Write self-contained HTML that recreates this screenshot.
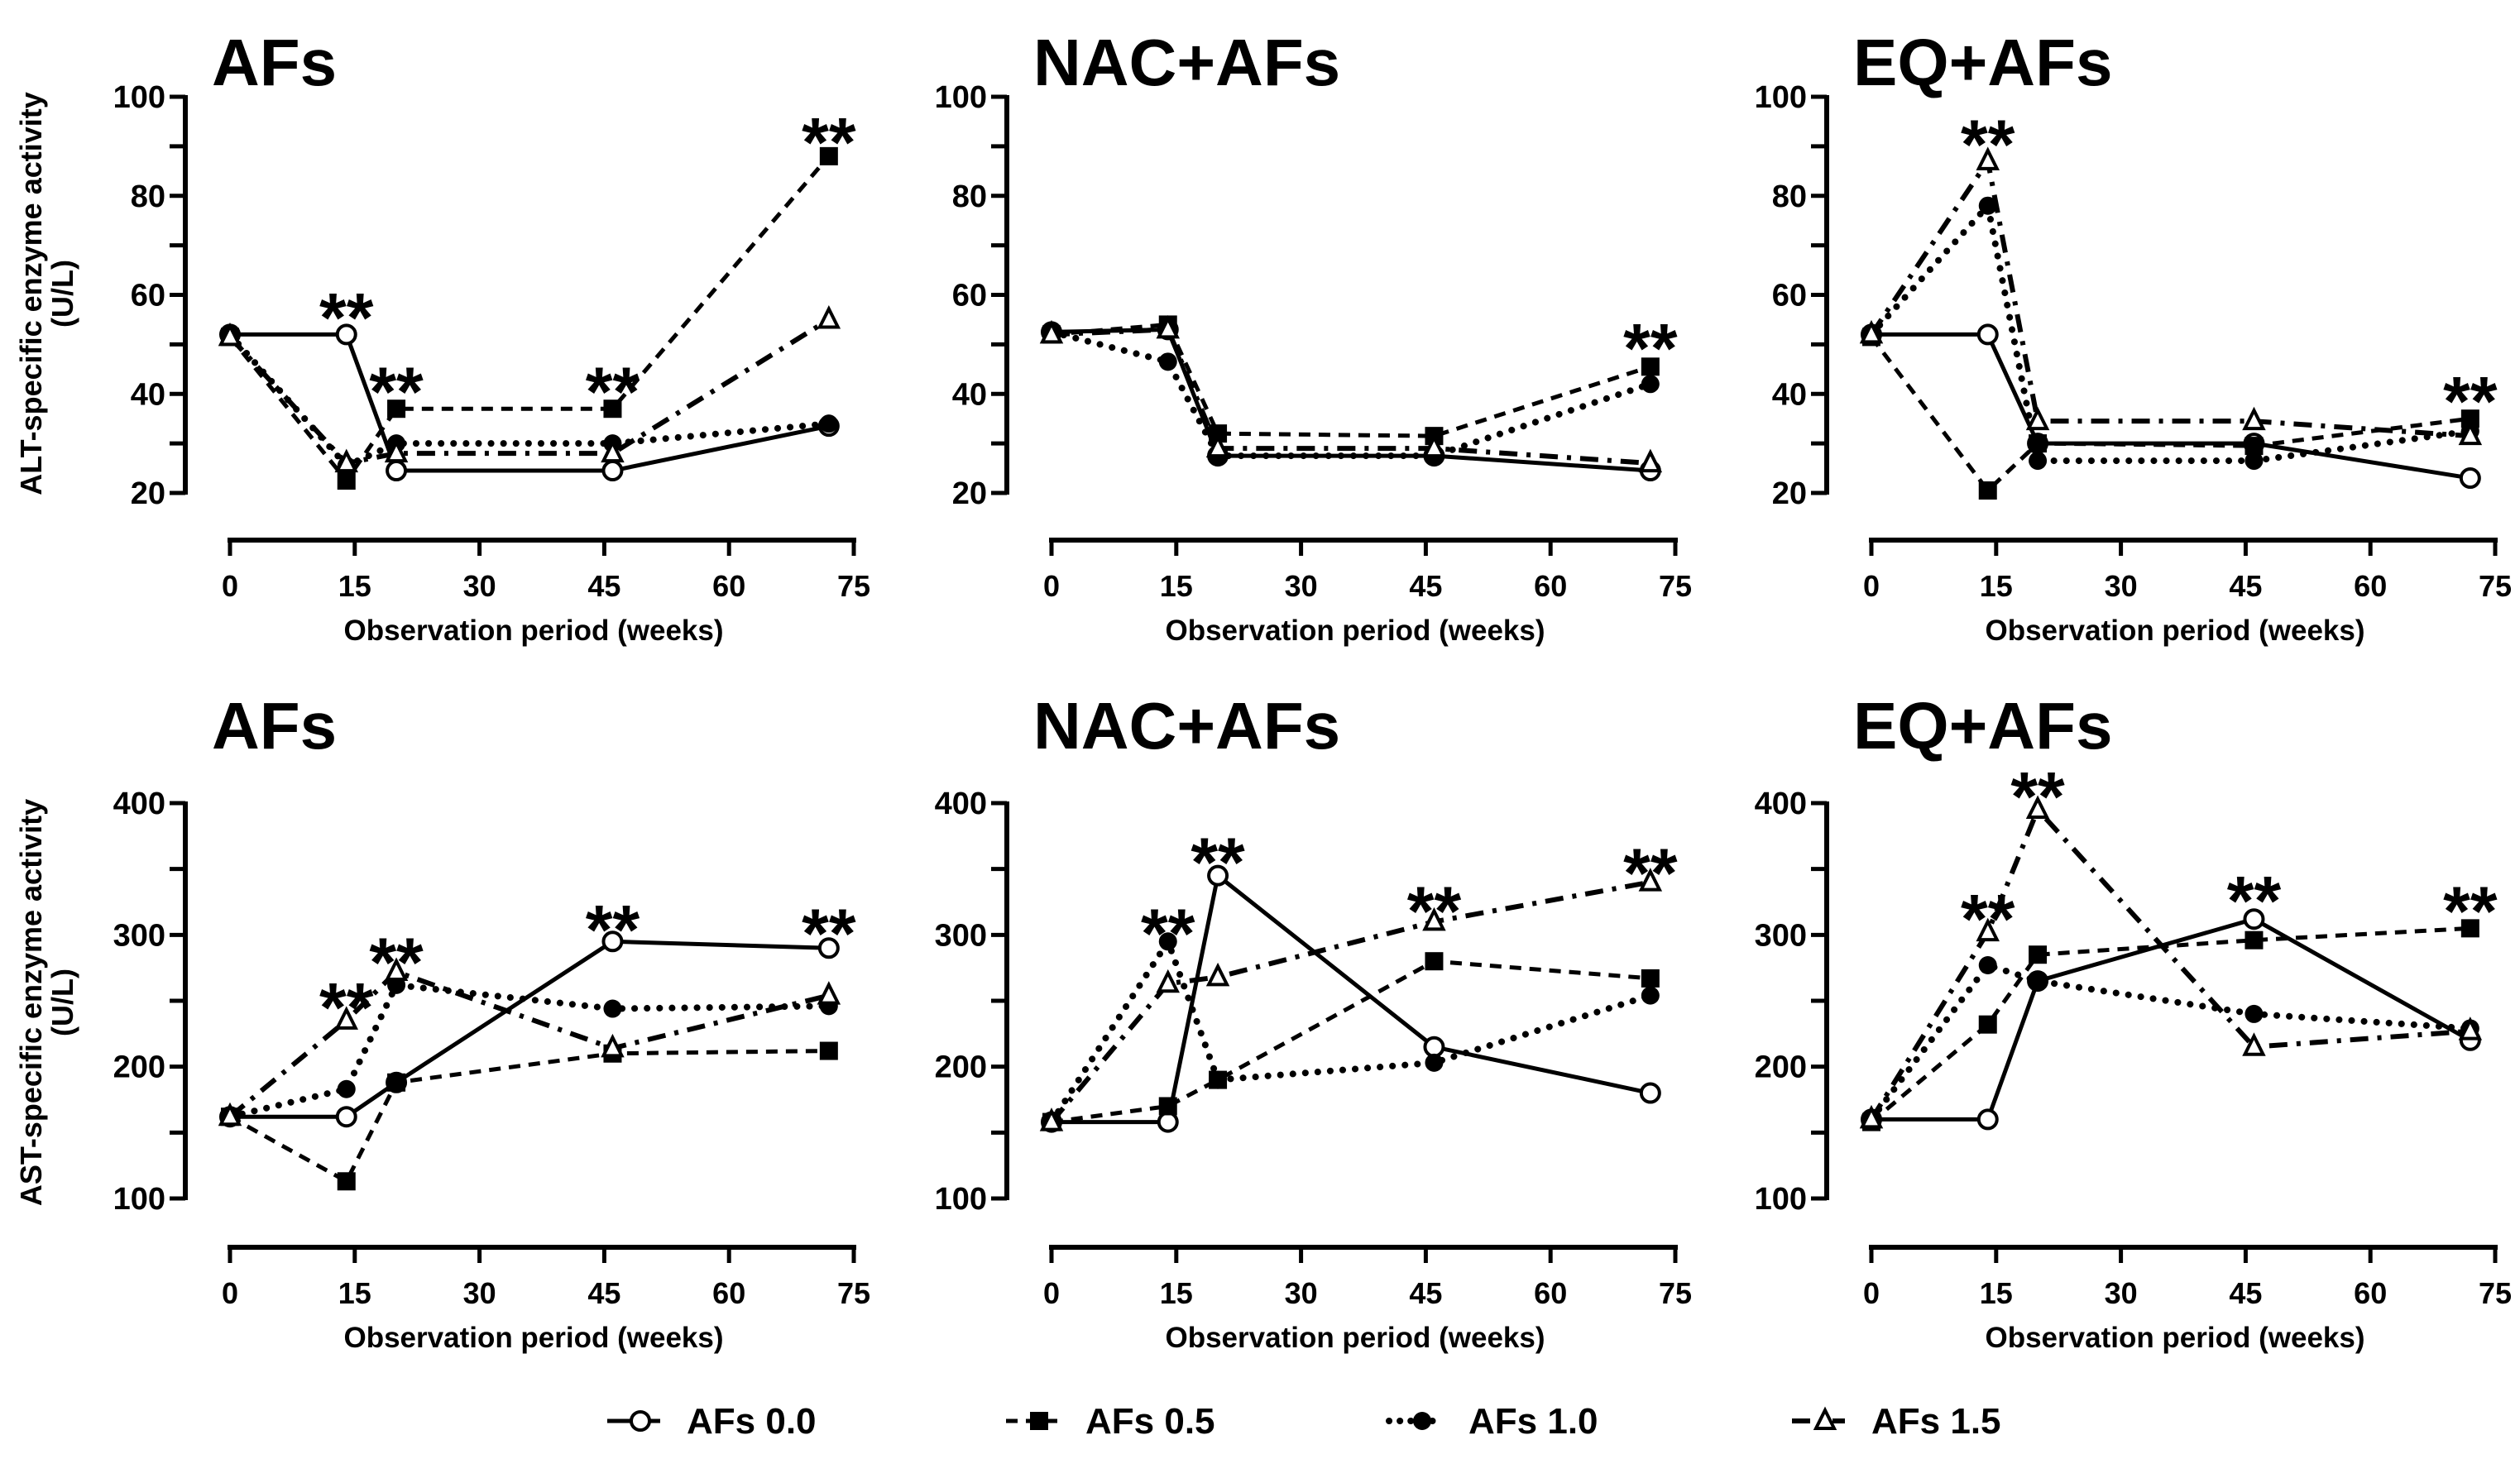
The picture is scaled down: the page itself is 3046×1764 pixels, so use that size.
<!DOCTYPE html>
<html><head><meta charset="utf-8"><style>
body{margin:0;background:#fff}
svg{display:block}
text{font-family:"Liberation Sans",Arial,sans-serif;font-weight:bold;fill:#000}
</style></head><body>
<svg id="chart" width="3046" height="1764" viewBox="0 0 3046 1764" xmlns="http://www.w3.org/2000/svg"></svg>
<script>
const weeks = [0, 14, 20, 46, 72];
const seriesNames = ["AFs 0.0", "AFs 0.5", "AFs 1.0", "AFs 1.5"];
const panelTitles = ["AFs", "NAC+AFs", "EQ+AFs"];
const xTicks = [0, 15, 30, 45, 60, 75];
const altTicks = [20, 40, 60, 80, 100];
const astTicks = [100, 200, 300, 400];
const altAFs = [[52,52,24.5,24.5,33.5],[51.5,22.5,37,37,88],[52,25.5,30,30,34],[51.5,26,28,28,55]];
const altNAC = [[52.5,53,27.5,27.5,24.5],[52,54,32,31.5,45.5],[52.5,46.5,27.5,27.5,42],[52,53,29,29,26]];
const altEQ  = [[52,52,30,30,23],[51.5,20.5,30,29.5,35],[52,78,26.5,26.5,32.5],[52,87,34.5,34.5,31.5]];
const astAFs = [[162,162,188,295,290],[162,113,188,210,212],[162,183,262,244,246],[162,235,272,214,254]];
const astNAC = [[158,158,345,215,180],[158,170,190,280,267],[158,295,190,203,254],[158,263,268,310,340]];
const astEQ  = [[160,160,265,312,220],[158,232,285,296,305],[160,277,265,240,229],[160,302,395,215,227]];
const starsALT = [[[14,58.6],[20,43.6],[46,43.6],[72,94]],[[72,52.4]],[[14,93.6],[72,41.7]]];
const starsAST = [[[14,257],[20,291],[46,316],[72,313]],[[14,313],[20,367],[46,330],[72,359]],[[14,324],[20,417],[46,338],[72,330]]];

const NS="http://www.w3.org/2000/svg";
const svg=document.getElementById('chart');
function el(tag,attrs,parent){const e=document.createElementNS(NS,tag);for(const k in attrs)e.setAttribute(k,attrs[k]);(parent||svg).appendChild(e);return e;}
const styles=[
 {dash:null,cap:"butt",w:5},
 {dash:"14 10",cap:"butt",w:5},
 {dash:"0.1 15",cap:"round",w:8},
 {dash:"22 11 5 11",cap:"butt",w:6}
];
function marker(g,i,x,y){
  let m;
  if(i===0) m=el('circle',{cx:x,cy:y,r:11,fill:'#fff',stroke:'#000','stroke-width':4},g);
  else if(i===1) m=el('rect',{x:x-11,y:y-11,width:22,height:22,fill:'#000'},g);
  else if(i===2) m=el('circle',{cx:x,cy:y,r:11,fill:'#000'},g);
  else m=el('path',{d:`M${x},${y-13} L${x+11},${y+9} L${x-11},${y+9} Z`,fill:'#fff',stroke:'#000','stroke-width':4},g);
  return m;
}
function panel(col,row,title,data,stars){
  const dx=[0,993,1984][col];
  const top=row===0;
  const g=el('g',{});
  
  
  const x0=278+dx,x1=1032+dx;
  const xs=v=>x0+(v/75)*(x1-x0);
  const yMin=top?20:100,yMax=top?100:400,yT=top?117:971,yB=top?596:1449;
  const ys=v=>yB-(v-yMin)/(yMax-yMin)*(yB-yT);
  const axX=224+dx, axY=top?653:1508;
  const t=el('text',{x:256+dx,y:top?103:905,'font-size':80},g);t.textContent=title;
  
  const ya=el('line',{x1:axX,y1:yT-2,x2:axX,y2:yB+2,stroke:'#000','stroke-width':6},g);
  
  const step=top?10:50;
  for(let v=yMin;v<=yMax;v+=step){
    el('line',{x1:axX-19,y1:ys(v),x2:axX,y2:ys(v),stroke:'#000','stroke-width':5},g);
  }
  (top?altTicks:astTicks).forEach(v=>{
    const tt=el('text',{x:axX-24,y:ys(v)+13,'font-size':38,'text-anchor':'end'},g);tt.textContent=v;
    
  });
  const xa=el('line',{x1:x0-3,y1:axY,x2:x1+3,y2:axY,stroke:'#000','stroke-width':6},g);
  
  xTicks.forEach(v=>{
    el('line',{x1:xs(v),y1:axY,x2:xs(v),y2:axY+19,stroke:'#000','stroke-width':5},g);
    const tt=el('text',{x:xs(v),y:axY+68,'font-size':36,'text-anchor':'middle'},g);tt.textContent=v;
    
  });
  const xt=el('text',{x:(x0+x1)/2-10,y:axY+121,'font-size':35,'text-anchor':'middle'},g);
  xt.textContent='Observation period (weeks)';
  
  if(col===0){
    const cy=top?355:1212;
    const lab=top?'ALT':'AST';
    const a=el('text',{x:0,y:0,'font-size':36,'text-anchor':'middle',transform:`translate(50,${cy}) rotate(-90)`},g);
    a.textContent=lab+'-specific enzyme activity';
    
    const b=el('text',{x:0,y:0,'font-size':36,'text-anchor':'middle',transform:`translate(88,${cy}) rotate(-90)`},g);
    b.textContent='(U/L)';
    
  }
  data.forEach((s,i)=>{
    const st=styles[i];
    const d=s.map((v,k)=>(k?'L':'M')+xs(weeks[k])+','+ys(v)).join(' ');
    const p=el('path',{d:d,fill:'none',stroke:'#000','stroke-width':st.w,'stroke-linecap':st.cap,'stroke-linejoin':'round'},g);
    if(st.dash)p.setAttribute('stroke-dasharray',st.dash);
    
    
  });
  data.forEach((s,i)=>{
    s.forEach((v,k)=>{
      const m=marker(g,i,xs(weeks[k]),ys(v));
      
      
    });
  });
  stars.forEach(s=>{
    const tt=el('text',{x:xs(s[0]),y:ys(s[1])+48,'font-size':84,'text-anchor':'middle'},g);
    tt.textContent='**';
    
    
  });
}
const altData=[altAFs,altNAC,altEQ], astData=[astAFs,astNAC,astEQ];
for(let c=0;c<3;c++){panel(c,0,panelTitles[c],altData[c],starsALT[c]);panel(c,1,panelTitles[c],astData[c],starsAST[c]);}
const legX=[734,1216,1679,2166];
const lg=el('g',{});


seriesNames.forEach((n,i)=>{
  const x=legX[i],y=1718;
  const g=el('g',{},lg);
  
  
  const st=styles[i];
  const l=el('line',{x1:x,y1:y,x2:x+64,y2:y,stroke:'#000','stroke-width':st.w,'stroke-linecap':st.cap},g);
  if(st.dash)l.setAttribute('stroke-dasharray',i===2?'0.1 13':st.dash);
  marker(g,i,x+40,y);
  const t=el('text',{x:x+96,y:y+15,'font-size':44},g);t.textContent=n;
});
</script>
</body></html>
